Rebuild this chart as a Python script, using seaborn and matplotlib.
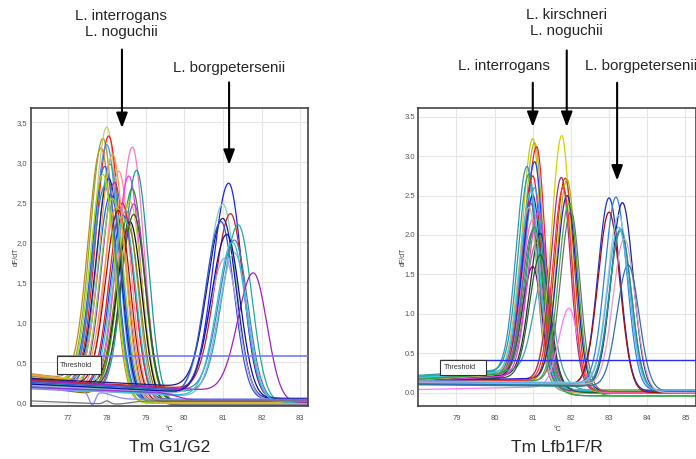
import numpy as np
import pandas as pd
import seaborn as sns
import matplotlib.pyplot as plt
from matplotlib.patches import Rectangle
from matplotlib.ticker import FuncFormatter, MultipleLocator

# ---------------- data ----------------
# Tm G1/G2 : L. interrogans / L. noguchii peaks
g12_a_tm = [77.85, 77.9, 78.0, 78.05, 78.0, 78.08, 78.05, 78.31, 78.66, 78.57, 78.77, 78.66, 78.6, 78.7, 78.42,
            78.6, 78.4, 78.2, 78.1, 77.95, 78.25, 78.5, 78.45, 78.7, 77.95, 78.15, 78.3, 78.55, 78.15, 77.9]
g12_a_peak = [3.18, 3.30, 3.44, 3.33, 3.22, 2.98, 2.80, 2.89, 3.19, 2.83, 2.90, 2.67, 2.51, 2.48, 2.34,
              2.26, 2.49, 2.75, 2.60, 2.95, 2.45, 2.40, 2.30, 2.35, 2.70, 2.55, 2.40, 2.20, 3.10, 2.85]
g12_a_base = [0.36, 0.33, 0.35, 0.30, 0.28, 0.26, 0.30, 0.24, 0.22, 0.27, 0.25, 0.29, 0.31, 0.23, 0.27,
              0.32, 0.28, 0.26, 0.30, 0.33, 0.34, 0.22, 0.25, 0.29, 0.27, 0.24, 0.31, 0.20, 0.35, 0.32]
g12_a_tail = [0.00, -0.01, 0.00, 0.01, 0.02, 0.00, 0.03, 0.01, 0.02, -0.01, 0.00, 0.02, 0.01, 0.03, 0.04,
              -0.03, 0.01, 0.00, 0.02, 0.03, 0.00, -0.02, 0.01, 0.02, 0.03, 0.00, 0.01, 0.02, 0.00, -0.01]
# Tm G1/G2 : L. borgpetersenii peaks
g12_b_tm = [81.15, 81.0, 81.2, 81.0, 80.95, 81.4, 81.3, 81.3, 81.05, 81.79, 81.1, 81.25]
g12_b_peak = [2.74, 2.48, 2.36, 2.30, 2.26, 2.22, 2.03, 1.87, 1.80, 1.62, 2.10, 2.00]
g12_b_base = [0.25, 0.22, 0.28, 0.30, 0.20, 0.24, 0.26, 0.18, 0.21, 0.27, 0.23, 0.19]
g12_b_tail = [0.05, 0.02, 0.03, 0.05, 0.04, 0.00, 0.02, 0.01, 0.03, 0.00, 0.05, 0.02]
# Tm G1/G2 : curves without a real melt peak (controls)
g12_c_tm = [77.62, 79.3, 78.0]
g12_c_peak = [-0.03, 0.13, 0.02]
g12_c_base = [0.17, 0.19, 0.02]
g12_c_tail = [0.04, 0.03, 0.02]
g12_threshold = 0.58
g12_xticks = [77, 78, 79, 80, 81, 82, 83]

# Tm Lfb1F/R : L. interrogans
lfb_a_tm = [81.0, 81.05, 81.1, 81.05, 80.85, 80.9, 81.0, 81.05, 81.0, 80.95, 81.1, 81.0, 81.0, 81.2, 81.1,
            81.0, 81.3, 80.9, 81.15, 80.95, 81.05, 81.2]
lfb_a_peak = [3.22, 3.17, 3.12, 2.93, 2.87, 2.77, 2.75, 2.60, 2.50, 2.40, 2.22, 2.20, 2.05, 2.02, 1.90,
              1.60, 1.50, 2.35, 2.30, 2.55, 2.10, 1.75]
lfb_a_base = [0.14, 0.18, 0.12, 0.15, 0.20, 0.22, 0.13, 0.17, 0.11, 0.16, 0.19, 0.14, 0.12, 0.15, 0.18,
              0.13, 0.21, 0.16, 0.14, 0.19, 0.17, 0.12]
lfb_a_tail = [0.00, 0.02, 0.01, 0.03, 0.00, 0.02, 0.01, 0.03, 0.02, 0.00, -0.04, 0.01, 0.02, 0.00, 0.01,
              0.02, 0.03, 0.00, 0.01, 0.03, -0.04, 0.00]
# Tm Lfb1F/R : L. kirschneri / L. noguchii
lfb_b_tm = [81.76, 81.75, 81.85, 81.9, 81.9, 82.0, 81.95, 81.8, 81.95]
lfb_b_peak = [3.26, 2.73, 2.72, 2.70, 2.50, 2.30, 1.07, 2.60, 2.40]
lfb_b_base = [0.12, 0.14, 0.11, 0.13, 0.15, 0.12, 0.04, 0.13, 0.11]
lfb_b_tail = [0.00, 0.01, 0.00, 0.02, 0.01, 0.00, 0.00, 0.01, -0.04]
# Tm Lfb1F/R : L. borgpetersenii
lfb_c_tm = [83.0, 83.18, 83.35, 83.0, 83.25, 83.3, 83.3, 83.4, 83.5, 83.25]
lfb_c_peak = [2.47, 2.48, 2.41, 2.29, 2.25, 2.08, 2.05, 1.95, 1.62, 2.10]
lfb_c_base = [0.12, 0.14, 0.11, 0.13, 0.15, 0.12, 0.10, 0.13, 0.11, 0.14]
lfb_c_tail = [0.02, 0.03, 0.01, 0.00, 0.03, 0.02, 0.01, 0.00, 0.02, 0.03]
lfb_threshold = 0.41
lfb_xticks = [79, 80, 81, 82, 83, 84, 85]

g12_colors = ['#c8861e', '#8aa832', '#d9c07a', '#ff1a1a', '#3399ff', '#2fb38a', '#1a1a99', '#ff8c8c',
              '#f07ac8', '#ff33ff', '#1a9999', '#1f9f1f', '#c8c832', '#b040b0', '#2233ff', '#111111',
              '#e62020', '#8040c0', '#1f5fff', '#3060e0', '#ff9933', '#999999', '#33cccc', '#206020',
              '#4682b4', '#90d050', '#a01010', '#808000', '#f0a040', '#a0e000',
              '#2020ff', '#80d0c0', '#d01f1f', '#1a1a80', '#3355dd', '#22aa99', '#4080b0', '#88aaee',
              '#b0a0e0', '#a020c0', '#1010a0', '#30c0d0',
              '#8888ff', '#9933cc', '#777777']
lfb_colors = ['#d4c400', '#8fbf3f', '#ff2020', '#2040ff', '#3a8fc0', '#20a0a0', '#e02020', '#3399ff',
              '#2020e0', '#9050a0', '#20a080', '#ff66cc', '#607090', '#303030', '#808080', '#800080',
              '#40a0a0', '#d0b070', '#e040e0', '#30d0e0', '#30a030', '#206030',
              '#d8d000', '#a03080', '#c04000', '#b0b000', '#2020d0', '#707070', '#ff77ff', '#ff3030',
              '#40b040',
              '#2030d0', '#3080e0', '#202090', '#a01010', '#90d0d0', '#40a0a0', '#209080', '#e0a0c0',
              '#3070b0', '#60b0f0']


def melt_curve(x, tm, peak, b0, tail, slope, wl, wr):
    base = b0 + slope * (x - x[0])
    step = 1 / (1 + np.exp(-(x - tm - 0.55) / 0.15))
    base = base * (1 - step) + tail * step
    g = np.where(x < tm, np.exp(-0.5 * ((x - tm) / wl) ** 2), np.exp(-0.5 * ((x - tm) / wr) ** 2))
    return base + (peak - np.interp(tm, x, base)) * g


def build(x, groups):
    rows = []
    n = 0
    for tm, pk, b0, tl, slope, wl, wr in groups:
        for i in range(len(tm)):
            y = melt_curve(x, tm[i], pk[i], b0[i], tl[i], slope, wl, wr)
            rows.append(pd.DataFrame({'temp': x, 'dfdt': y, 'curve': 'c%02d' % n}))
            n += 1
    return pd.concat(rows, ignore_index=True)


x_g12 = np.linspace(76.03, 83.2, 600)
x_lfb = np.linspace(78.0, 85.27, 600)
df_g12 = build(x_g12, [(g12_a_tm, g12_a_peak, g12_a_base, g12_a_tail, -0.06, 0.33, 0.30),
                       (g12_b_tm, g12_b_peak, g12_b_base, g12_b_tail, -0.025, 0.40, 0.34),
                       (g12_c_tm, g12_c_peak, g12_c_base, g12_c_tail, -0.02, 0.08, 0.08)])
df_lfb = build(x_lfb, [(lfb_a_tm, lfb_a_peak, lfb_a_base, lfb_a_tail, 0.03, 0.28, 0.22),
                       (lfb_b_tm, lfb_b_peak, lfb_b_base, lfb_b_tail, 0.01, 0.27, 0.23),
                       (lfb_c_tm, lfb_c_peak, lfb_c_base, lfb_c_tail, -0.005, 0.29, 0.28)])

sns.set_style('whitegrid')
plt.rcParams['font.family'] = ['Liberation Sans', 'DejaVu Sans']

fig = plt.figure(figsize=(6.96, 4.59), dpi=100)
ax1 = fig.add_axes([0.0441, 0.1161, 0.3984, 0.6486])
ax2 = fig.add_axes([0.601, 0.1161, 0.3986, 0.6486])

for ax, df, cols, xt in [(ax1, df_g12, g12_colors, g12_xticks), (ax2, df_lfb, lfb_colors, lfb_xticks)]:
    order = sorted(df.curve.unique())
    sns.lineplot(data=df, x='temp', y='dfdt', hue='curve', hue_order=order, palette=cols,
                 legend=False, linewidth=0.9, estimator=None, sort=False, ax=ax)
    for sp in ax.spines.values():
        sp.set_color('#444444')
        sp.set_linewidth(1.2)
    ax.grid(True, color='#e6e6e6', linewidth=0.8)
    ax.yaxis.set_major_locator(MultipleLocator(0.5))
    ax.set_xticks(xt)
    ax.tick_params(labelsize=5.5, colors='#555555', length=0)
    ax.tick_params(axis='x', pad=6.5)
    ax.tick_params(axis='y', pad=2.5)
    ax.set_xlabel('°C', fontsize=5, color='#444444', labelpad=3)
    ax.set_ylabel('dF/dT', fontsize=5, color='#444444')

ax1.set_xlim(76.03, 83.2)
ax1.set_ylim(-0.04, 3.68)
ax1.yaxis.set_major_formatter(FuncFormatter(lambda v, p: ('%.1f' % v).replace('.', ',')))
ax1.yaxis.set_label_coords(-0.038, 0.5)
ax2.set_xlim(78.0, 85.27)
ax2.set_ylim(-0.165, 3.61)
ax2.yaxis.set_major_formatter(FuncFormatter(lambda v, p: '%.1f' % v))
ax2.yaxis.set_label_coords(-0.042, 0.5)

# threshold lines with their boxes
ax1.hlines(g12_threshold, 76.7, 83.2, color='#7777ff', linewidth=1.2, zorder=5)
ax1.add_patch(Rectangle((76.7, 0.35), 1.16, g12_threshold - 0.35, facecolor='white',
                        edgecolor='#333333', linewidth=0.8, zorder=6))
ax1.text(76.78, 0.465, 'Threshold', fontsize=5.2, va='center', color='#333333', zorder=7)
ax2.hlines(lfb_threshold, 78.58, 85.27, color='#2a2aff', linewidth=1.0, zorder=5)
ax2.add_patch(Rectangle((78.58, 0.22), 1.19, lfb_threshold - 0.22, facecolor='white',
                        edgecolor='#333333', linewidth=0.8, zorder=6))
ax2.text(78.66, 0.315, 'Threshold', fontsize=5.2, va='center', color='#333333', zorder=7)

arrow = dict(arrowstyle='-|>,head_length=0.45,head_width=0.17', color='black', lw=1.5,
             shrinkA=0, shrinkB=0, mutation_scale=20)


def label(ax, text, tx, ty, ax_x, y0, y1):
    ax.text(tx, ty, text, fontsize=10.8, ha='center', va='center', clip_on=False, linespacing=1.15)
    ax.annotate('', xy=(ax_x, y1), xytext=(ax_x, y0), arrowprops=arrow, annotation_clip=False)


label(ax1, 'L. interrogans\nL. noguchii', 78.37, 4.73, 78.39, 4.41, 3.43)
label(ax1, 'L. borgpetersenii', 81.17, 4.18, 81.16, 4.0, 2.97)
label(ax2, 'L. kirschneri\nL. noguchii', 81.89, 4.69, 81.89, 4.34, 3.37)
label(ax2, 'L. interrogans', 80.24, 4.14, 81.0, 3.93, 3.37)
label(ax2, 'L. borgpetersenii', 83.84, 4.14, 83.21, 3.93, 2.69)

ax1.text(0.5, -0.139, 'Tm G1/G2', transform=ax1.transAxes, fontsize=12.5, ha='center', va='center')
ax2.text(0.5, -0.139, 'Tm Lfb1F/R', transform=ax2.transAxes, fontsize=12.5, ha='center', va='center')

fig.savefig('out.png', dpi=100)
